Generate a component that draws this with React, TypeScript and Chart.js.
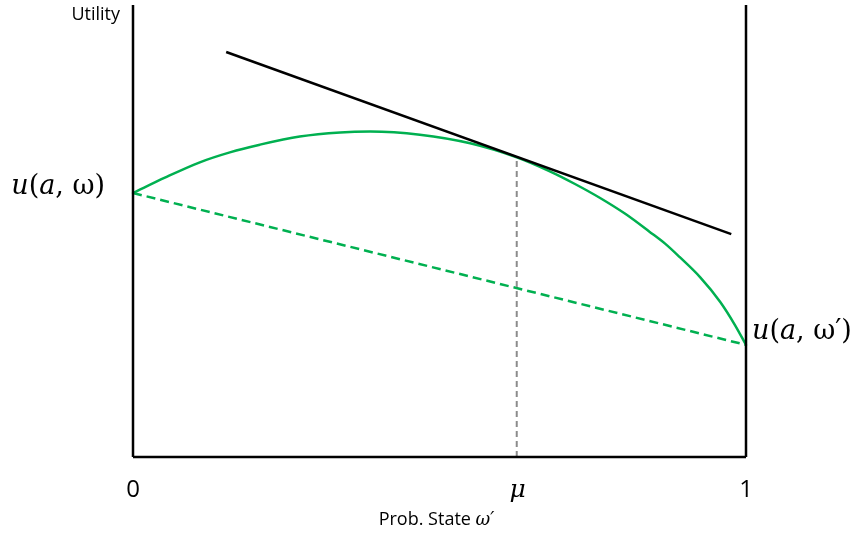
import React, { useEffect, useRef } from "react";
import { Chart, registerables } from "chart.js";

Chart.register(...registerables);

// Belief (probability of state ω′) where the tangent touches the curve
const MU = 0.626;

// Concave utility curve (green solid)
const curveX = [0, 0.052, 0.109, 0.158, 0.207, 0.272, 0.338, 0.387, 0.468, 0.55, 0.626, 0.68, 0.721, 0.762, 0.803, 0.843, 0.868, 0.892, 0.925, 0.958, 0.982, 1];
const curveY = [5.84, 6.18, 6.52, 6.74, 6.91, 7.09, 7.18, 7.2, 7.13, 6.94, 6.63, 6.32, 6.04, 5.73, 5.38, 4.98, 4.72, 4.42, 3.98, 3.43, 2.92, 2.48];

// Chord between the endpoints (green dashed)
const chordX = [0, 1];
const chordY = [5.84, 2.48];

// Tangent line at μ (black)
const tangentX = [0.152, 0.976];
const tangentY = [8.96, 4.93];

// Vertical guide at μ (grey dashed)
const guideX = [MU, MU];
const guideY = [0, 6.63];

// Axes frame
const leftAxisX = [0, 0];
const leftAxisY = [0, 10];
const rightAxisX = [1, 1];
const rightAxisY = [0, 10];
const bottomAxisX = [0, 1];
const bottomAxisY = [0, 0];

// Tick labels on the horizontal axis
const xTickValues = [0, MU, 1];
const xTickLabels = ["0", "μ", "1"];

const yAxisLabel = "Utility";
const xAxisLabel = "Prob. State ";
const xAxisLabelSym = "ω′";
const leftEndLabel = ["u", "(", "a", ", ω)"];
const rightEndLabel = ["u", "(", "a", ", ω′)"];

const pts = (xs: number[], ys: number[]) => xs.map((x, i) => ({ x, y: ys[i] }));

const ITALIC = "italic 27px 'DejaVu Serif'";
const UPRIGHT = "27px 'DejaVu Serif'";

function drawMath(ctx: any, parts: string[], x: number, y: number, alignRight: boolean) {
  const fonts = parts.map((_, i) => (i % 2 === 0 ? ITALIC : UPRIGHT));
  const widths = parts.map((p, i) => {
    ctx.font = fonts[i];
    return ctx.measureText(p).width;
  });
  const total = widths.reduce((a, b) => a + b, 0);
  let cx = alignRight ? x - total : x;
  ctx.textAlign = "left";
  parts.forEach((p, i) => {
    ctx.font = fonts[i];
    ctx.fillText(p, cx, y);
    cx += widths[i];
  });
}

const labelPlugin = {
  id: "labels",
  afterDatasetsDraw(chart: any) {
    const { ctx, scales } = chart;
    const xs = scales.x;
    const ys = scales.y;
    ctx.save();
    ctx.fillStyle = "#000";

    // Tick labels
    xTickValues.forEach((v, i) => {
      const px = xs.getPixelForValue(v);
      const isMu = xTickLabels[i] === "μ";
      ctx.font = isMu ? "italic 25px 'DejaVu Serif'" : "24px 'Open Sans'";
      ctx.textAlign = "center";
      ctx.textBaseline = "middle";
      ctx.fillText(xTickLabels[i], px + (isMu ? 1 : 0), ys.getPixelForValue(0) + 33);
    });

    // X axis title
    ctx.font = "18px 'Open Sans'";
    ctx.textBaseline = "middle";
    const w1 = ctx.measureText(xAxisLabel).width;
    ctx.font = "italic 18px 'DejaVu Serif'";
    const w2 = ctx.measureText(xAxisLabelSym).width;
    const cx = (xs.getPixelForValue(0) + xs.getPixelForValue(1)) / 2 - 3;
    const startX = cx - (w1 + w2) / 2;
    const ty = ys.getPixelForValue(0) + 63;
    ctx.textAlign = "left";
    ctx.font = "18px 'Open Sans'";
    ctx.fillText(xAxisLabel, startX, ty);
    ctx.font = "italic 18px 'DejaVu Serif'";
    ctx.fillText(xAxisLabelSym, startX + w1, ty);

    // Y axis title
    ctx.font = "18px 'Open Sans'";
    ctx.textAlign = "right";
    ctx.fillText(yAxisLabel, xs.getPixelForValue(0) - 13, ys.getPixelForValue(10) + 10);

    // End-point labels
    drawMath(ctx, leftEndLabel, xs.getPixelForValue(0) - 28, ys.getPixelForValue(chordY[0]) - 6, true);
    drawMath(ctx, rightEndLabel, xs.getPixelForValue(1) + 6, ys.getPixelForValue(chordY[1]) - 13, false);
    ctx.restore();
  },
};

export default function App() {
  const ref = useRef<HTMLCanvasElement | null>(null);
  useEffect(() => {
    if (!ref.current) return;
    const base = { showLine: true, pointRadius: 0, fill: false, clip: false as any };
    const chart = new Chart(ref.current, {
      type: "scatter",
      data: {
        datasets: [
          { ...base, data: pts(leftAxisX, leftAxisY), borderColor: "#000", borderWidth: 2.5 },
          { ...base, data: pts(rightAxisX, rightAxisY), borderColor: "#000", borderWidth: 2.5 },
          { ...base, data: pts(bottomAxisX, bottomAxisY), borderColor: "#000", borderWidth: 2.5 },
          { ...base, data: pts(guideX, guideY), borderColor: "#8c8c8c", borderWidth: 2, borderDash: [6, 4] },
          { ...base, data: pts(chordX, chordY), borderColor: "#00b050", borderWidth: 2.5, borderDash: [9, 5] },
          { ...base, data: pts(tangentX, tangentY), borderColor: "#000", borderWidth: 2.5 },
          {
            ...base,
            data: pts(curveX, curveY),
            borderColor: "#00b050",
            borderWidth: 2.5,
            cubicInterpolationMode: "monotone" as any,
            borderJoinStyle: "round" as any,
            borderCapStyle: "round" as any,
          },
        ],
      },
      options: {
        animation: false,
        responsive: false,
        devicePixelRatio: 1,
        layout: { padding: { left: 133, right: 109, top: 5, bottom: 76 } },
        plugins: { legend: { display: false }, tooltip: { enabled: false } },
        scales: {
          x: { type: "linear", min: 0, max: 1, display: false },
          y: { type: "linear", min: 0, max: 10, display: false },
        },
      },
      plugins: [labelPlugin],
    });
    return () => chart.destroy();
  }, []);
  return (
    <div style={{ position: "absolute", left: 0, top: 0, width: 855, height: 533, background: "#fff" }}>
      <canvas ref={ref} width={855} height={533} style={{ width: 855, height: 533 }} />
    </div>
  );
}
